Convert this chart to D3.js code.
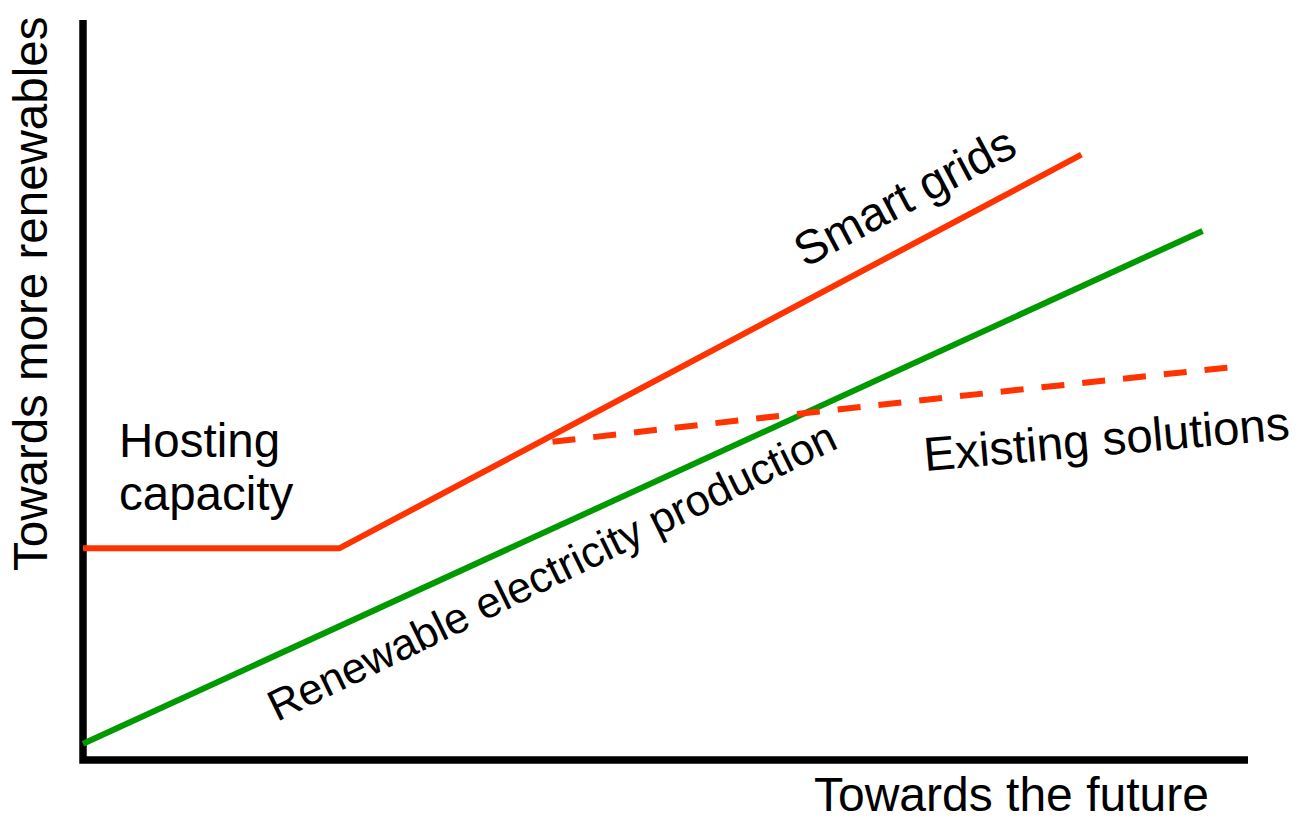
<!DOCTYPE html>
<html>
<head>
<meta charset="utf-8">
<script src="https://cdn.jsdelivr.net/npm/d3@7"></script>
<style>
  body { margin: 0; background: #fff; }
  text { font-family: "Liberation Sans", Arial, sans-serif; fill: #000; }
</style>
</head>
<body>
<div id="vis"></div>
<script>
var width = 1299;
var height = 822;

// data in arbitrary "future" / "renewables" units
var hostingX = [0, 2.2, 8.57];
var hostingY = [2.86, 2.86, 8.18];
var existingX = [4.03, 6.15, 9.87];
var existingY = [4.30, 4.68, 5.31];
var productionX = [0, 9.61];
var productionY = [0.22, 7.15];

var labels = ["Hosting", "capacity", "Smart grids", "Existing solutions",
              "Renewable electricity production", "Towards the future", "Towards more renewables"];

var canvas = d3.select("#vis")
  .append("svg")
  .attr("width", width)
  .attr("height", height)
  .style("background-color", "#fff");

const x = d3.scaleLinear().domain([0, 10]).range([83, 1248]);
const y = d3.scaleLinear().domain([0, 10]).range([760, 20]);

const line = d3.line().x(d => x(d[0])).y(d => y(d[1]));

// axes
canvas.append("path")
  .attr("d", `M${x(0)},${y(10)} V${y(0)} H${x(10)}`)
  .attr("fill", "none")
  .attr("stroke", "#000")
  .attr("stroke-width", 7.5)
  .attr("stroke-linejoin", "miter");

canvas.append("path")
  .attr("d", line(productionX.map((v, i) => [v, productionY[i]])))
  .attr("fill", "none")
  .attr("stroke", "#009900")
  .attr("stroke-width", 6);

canvas.append("path")
  .attr("d", line(hostingX.map((v, i) => [v, hostingY[i]])))
  .attr("fill", "none")
  .attr("stroke", "#ff3300")
  .attr("stroke-width", 6);

canvas.append("path")
  .attr("d", d3.line().curve(d3.curveMonotoneX).x(d => x(d[0])).y(d => y(d[1]))(existingX.map((v, i) => [v, existingY[i]])))
  .attr("fill", "none")
  .attr("stroke", "#ff3300")
  .attr("stroke-width", 6)
  .attr("stroke-dasharray", "23,18");

// labels
function label(txt, px, py, rot, size) {
  canvas.append("text")
    .attr("transform", `translate(${px},${py}) rotate(${rot})`)
    .style("font-size", size + "px")
    .text(txt);
}

label(labels[0], 119, 457, 0, 47.5);
label(labels[1], 119, 510, 0, 47.5);
label(labels[2], 805, 268, -28, 47.5);
label(labels[3], 925, 471, -5, 47.5);
label(labels[4], 277, 722, -26, 43.5);
label(labels[5], 814, 811, 0, 48);
label(labels[6], 47, 571, -90, 47.5);
</script>
</body>
</html>
